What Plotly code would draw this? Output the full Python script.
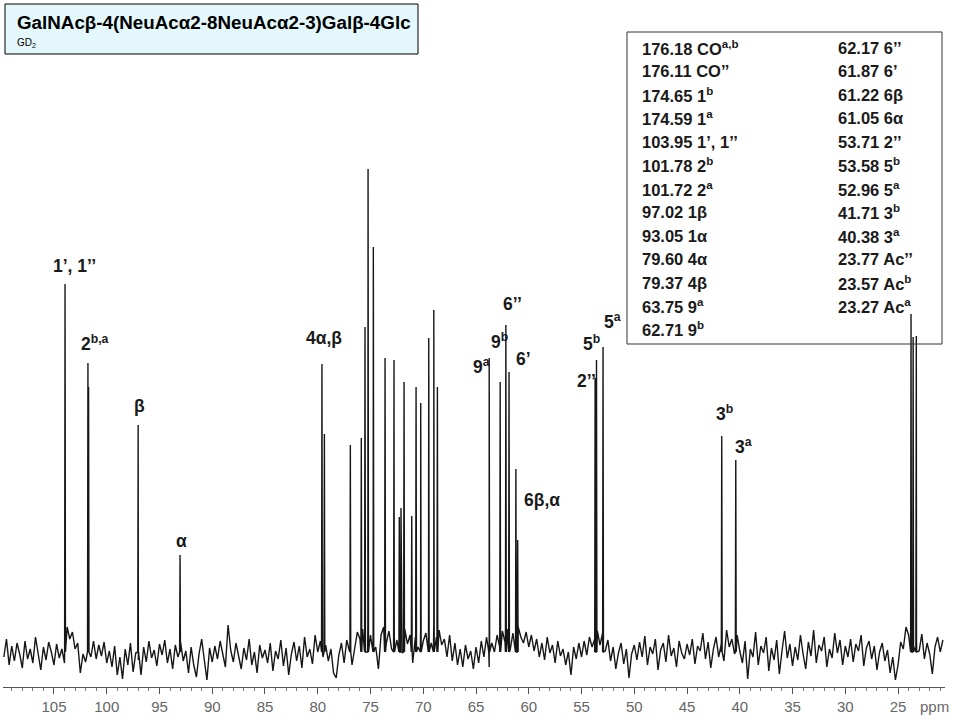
import numpy as np
import plotly.graph_objects as go

# ---------------- data ----------------
# 13C chemical shifts (ppm) of the spectrum lines and their heights (relative intensity)
peak_ppm = [103.95, 101.78, 101.72, 97.02, 93.05, 79.60, 79.37, 76.91, 75.87, 75.52,
            75.23, 74.73, 73.62, 72.77, 72.27, 72.11, 71.82, 71.09, 70.68, 70.24,
            69.48, 69.00, 68.66, 63.75, 62.71, 62.17, 61.87, 61.22, 61.05, 53.71,
            53.58, 52.96, 41.71, 40.38, 23.77, 23.57, 23.27]
peak_height = [403, 324, 300, 262, 132, 323, 253, 242, 249, 360,
               518, 440, 329, 327, 170, 179, 305, 171, 300, 284,
               349, 377, 300, 329, 305, 362, 315, 218, 147, 309,
               327, 340, 251, 227, 373, 350, 351]
baseline_level = 35

# baseline noise, every 0.25 ppm from 109.75 down to 20.75 ppm
noise_ppm = np.arange(109.75, 20.7, -0.25)
noise_val = [
    30, 48, 22, 41, 26, 44, 33, 19, 46, 28, 38, 24, 50, 31, 17, 40, 27, 45, 35, 22,
    43, 29, 38, 24, 60, 48, 55, 38, 44, 14, 33, 25, 40, 30, 46, 28, 42, 31, 45, 24,
    36, 20, 41, 12, 30, 8, 38, 22, 44, 15, 34, 27, 12, 40, 25, 46, 29, 37, 21, 43,
    32, 47, 24, 38, 18, 42, 30, 45, 26, 36, 14, 40, 22, 10, 33, 48, 27, 7, 39, 25,
    41, 28, 46, 33, 20, 62, 37, 25, 44, 31, 18, 39, 27, 48, 22, 35, 14, 42, 29, 37,
    24, 44, 16, 36, 28, 47, 21, 39, 12, 33, 45, 26, 41, 19, 50, 30, 38, 23, 52, 35,
    46, 30, 42, 26, 38, 14, 9, 32, 44, 24, 47, 36, 22, 40, 55, 48, 58, 45, 62, 52,
    58, 40, 18, 52, 60, 44, 56, 38, 62, 47, 55, 34, 58, 43, 52, 24, 50, 40, 57, 46,
    54, 60, 44, 63, 50, 57, 42, 48, 30, 52, 26, 44, 22, 38, 20, 42, 28, 36, 18, 40,
    24, 46, 30, 50, 20, 44, 35, 52, 40, 56, 45, 58, 38, 54, 47, 60, 50, 44, 55, 40,
    52, 36, 48, 30, 44, 27, 50, 34, 42, 24, 46, 31, 38, 22, 35, 12, 40, 28, 44, 30,
    46, 32, 50, 40, 48, 56, 42, 54, 36, 47, 26, 40, 18, 34, 44, 23, 38, 9, 33, 42,
    27, 45, 30, 51, 22, 40, 33, 48, 17, 37, 44, 25, 52, 31, 39, 20, 46, 34, 28, 43,
    32, 48, 23, 41, 36, 54, 28, 45, 19, 38, 50, 30, 43, 26, 57, 40, 48, 33, 52, 36,
    24, 46, 8, 38, 30, 55, 22, 41, 34, 50, 16, 39, 27, 47, 13, 36, 56, 29, 43, 21,
    40, 27, 52, 33, 18, 45, 31, 57, 24, 42, 36, 50, 20, 38, 29, 54, 34, 47, 22, 41,
    30, 48, 25, 43, 36, 52, 21, 39, 46, 28, 41, 17, 35, 44, 26, 37, 14, 30, 7, 22,
    45, 38, 60, 52, 57, 40, 48, 36, 53, 28, 44, 33, 13, 40, 50, 35, 47]

x_tick_vals = [105, 100, 95, 90, 85, 80, 75, 70, 65, 60, 55, 50, 45, 40, 35, 30, 25]

table_shift_left = ["176.18", "176.11", "174.65", "174.59", "103.95", "101.78", "101.72",
                    "97.02", "93.05", "79.60", "79.37", "63.75", "62.71"]
table_assign_left = ["CO<sup>a,b</sup>", "CO’’", "1<sup>b</sup>", "1<sup>a</sup>", "1’, 1’’",
                     "2<sup>b</sup>", "2<sup>a</sup>", "1β", "1α", "4α", "4β",
                     "9<sup>a</sup>", "9<sup>b</sup>"]
table_shift_right = ["62.17", "61.87", "61.22", "61.05", "53.71", "53.58", "52.96",
                     "41.71", "40.38", "23.77", "23.57", "23.27"]
table_assign_right = ["6’’", "6’", "6β", "6α", "2’’", "5<sup>b</sup>", "5<sup>a</sup>",
                      "3<sup>b</sup>", "3<sup>a</sup>", "Ac’’", "Ac<sup>b</sup>", "Ac<sup>a</sup>"]

peak_labels = ["1’, 1’’", "2<sup>b,a</sup>", "β", "α", "4α,β", "9<sup>a</sup>", "9<sup>b</sup>",
               "6’’", "6’", "6β,α", "2’’", "5<sup>b</sup>", "5<sup>a</sup>",
               "3<sup>b</sup>", "3<sup>a</sup>"]

title_text = "GalNAcβ-4(NeuAcα2-8NeuAcα2-3)Galβ-4Glc"
subtitle_text = "GD<sub>2</sub>"

# ---------------- layout geometry (pixels) ----------------
W, H = 960, 720
PL, PR, PT, PB = 3, 15, 0, 33          # plot area margins
PW, PH = W - PL - PR, H - PT - PB
X_RANGE = [109.83, 20.55]

def px_x(px):
    return (px - PL) / PW

def px_y(py):
    return (H - PB - py) / PH

FONT = "Liberation Sans, Arial, sans-serif"

# ---------------- spectrum trace ----------------
n = min(len(noise_ppm), len(noise_val))
pts = [(noise_ppm[i], noise_val[i]) for i in range(n)]
for p, h in zip(peak_ppm, peak_height):
    pts.append((p + 0.04, baseline_level))
    pts.append((p, h))
    pts.append((p - 0.04, baseline_level))
pts.sort(key=lambda t: -t[0])
spec_x = [t[0] for t in pts]
spec_y = [t[1] for t in pts]

fig = go.Figure()
fig.add_trace(go.Scatter(x=spec_x, y=spec_y, mode="lines",
                         line=dict(color="#161616", width=1.4),
                         showlegend=False))

# ---------------- annotations ----------------
ann = []
shapes = [dict(type="rect", xref="paper", yref="paper",
               x0=px_x(5), x1=px_x(418), y0=px_y(54), y1=px_y(4),
               fillcolor="#E4F8FC", line=dict(color="#000000", width=1), layer="above")]
ann.append(dict(text="<b>" + title_text + "</b>", x=px_x(15), y=px_y(22),
                xref="paper", yref="paper", xanchor="left", yanchor="middle",
                showarrow=False, font=dict(family=FONT, size=18.8, color="#000")))
ann.append(dict(text=subtitle_text, x=px_x(15), y=px_y(43),
                xref="paper", yref="paper", xanchor="left", yanchor="middle",
                showarrow=False, font=dict(family=FONT, size=10, color="#000")))

shapes.append(dict(type="rect", xref="paper", yref="paper",
                   x0=px_x(627), x1=px_x(942), y0=px_y(344), y1=px_y(32),
                   fillcolor="rgba(255,255,255,0)", line=dict(color="#333", width=1)))
row_y0, row_dy = 48, 23.45
for i, (s, a) in enumerate(zip(table_shift_left, table_assign_left)):
    ann.append(dict(text="<b>" + s + " " + a + "</b>", x=px_x(640), y=px_y(row_y0 + i * row_dy),
                    xref="paper", yref="paper", xanchor="left", yanchor="middle",
                    showarrow=False, font=dict(family=FONT, size=16.5, color="#1a1a1a")))
for i, (s, a) in enumerate(zip(table_shift_right, table_assign_right)):
    ann.append(dict(text="<b>" + s + " " + a + "</b>", x=px_x(836), y=px_y(row_y0 + i * row_dy),
                    xref="paper", yref="paper", xanchor="left", yanchor="middle",
                    showarrow=False, font=dict(family=FONT, size=16.5, color="#1a1a1a")))

label_pos = [(74, 266), (95, 343), (139, 406), (181, 541), (324, 338), (481, 366),
             (499, 341), (512, 304), (523, 359), (542, 500), (586, 381), (591, 343),
             (612, 321), (724, 413), (743, 446)]
for t, (lx, ly) in zip(peak_labels, label_pos):
    ann.append(dict(text="<b>" + t + "</b>", x=px_x(lx), y=px_y(ly), xref="paper", yref="paper",
                    xanchor="center", yanchor="middle", showarrow=False,
                    font=dict(family=FONT, size=17.5, color="#1a1a1a")))

ann.append(dict(text="ppm", x=px_x(934), y=px_y(706), xref="paper", yref="paper",
                xanchor="center", yanchor="middle", showarrow=False,
                font=dict(family=FONT, size=15, color="#666")))

fig.update_layout(
    width=W, height=H,
    margin=dict(l=PL, r=PR, t=PT, b=PB),
    paper_bgcolor="white", plot_bgcolor="white",
    annotations=ann, shapes=shapes,
    xaxis=dict(range=X_RANGE, tickvals=x_tick_vals, ticktext=[str(v) for v in x_tick_vals],
               showgrid=False, zeroline=False, showline=True, linecolor="#555", linewidth=1,
               ticks="outside", ticklen=6, tickcolor="#555", tickwidth=1,
               tickfont=dict(family=FONT, size=15, color="#666"),
               minor=dict(dtick=1, ticks="outside", ticklen=3, tickcolor="#777", showgrid=False)),
    yaxis=dict(range=[0, H - PB], visible=False, showgrid=False, zeroline=False),
)

fig.write_html("out.html", config={"displayModeBar": False},
               post_script="document.body.style.margin='0';document.body.style.overflow='hidden';")
